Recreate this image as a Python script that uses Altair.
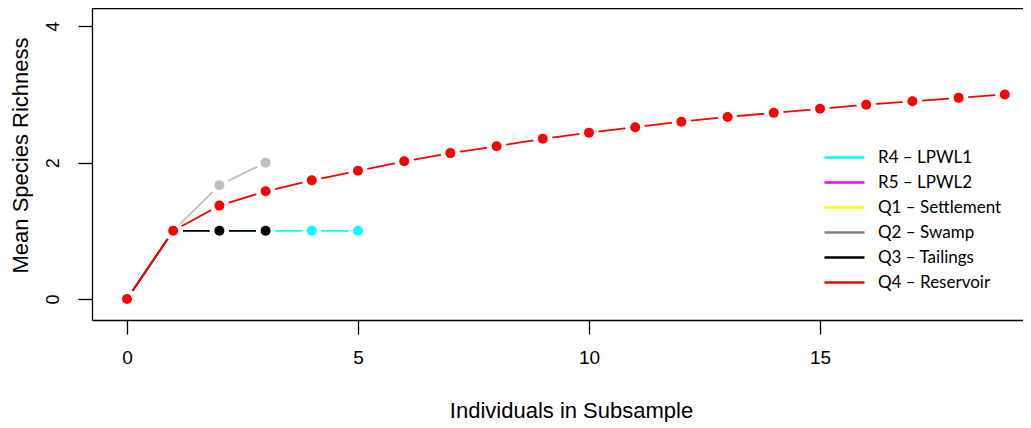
import altair as alt
import pandas as pd

# ---- data ----
names = ["R4 – LPWL1", "R5 – LPWL2", "Q1 – Settlement", "Q2 – Swamp", "Q3 – Tailings", "Q4 – Reservoir"]
line_colors = ["#00FFFF", "#FF00FF", "#FFFF00", "#BEBEBE", "#000000", "#FF0000"]
legend_colors = ["#00FFFF", "#FF00FF", "#FFFF00", "#808080", "#000000", "#FF0000"]

x_r4 = [0, 1, 2, 3, 4, 5]
y_r4 = [0, 1, 1, 1, 1, 1]
x_r5 = [0, 1]
y_r5 = [0, 1]
x_q1 = [0, 1, 2]
y_q1 = [0, 1, 1]
x_q2 = [0, 1, 2, 3]
y_q2 = [0, 1, 1.67, 2.0]
x_q3 = [0, 1, 2, 3]
y_q3 = [0, 1, 1, 1]
x_q4 = [0, 1, 2, 3, 4, 5, 6, 7, 8, 9, 10, 11, 12, 13, 14, 15, 16, 17, 18, 19]
y_q4 = [0, 1, 1.37, 1.58, 1.74, 1.88, 2.02, 2.14, 2.24, 2.35, 2.44, 2.52,
        2.60, 2.67, 2.73, 2.79, 2.85, 2.90, 2.95, 3.00]

x_ticks = [0, 5, 10, 15]
y_ticks = [0, 2, 4]

series_x = [x_r4, x_r5, x_q1, x_q2, x_q3, x_q4]
series_y = [y_r4, y_r5, y_q1, y_q2, y_q3, y_q4]

frames = []
for i, (n, xs_, ys_) in enumerate(zip(names, series_x, series_y)):
    frames.append(pd.DataFrame({"series": n, "x": xs_, "y": ys_, "k": i}))
df = pd.concat(frames, ignore_index=True)

xscale = alt.Scale(domain=[-0.7576, 19.394], nice=False, zero=False)
yscale = alt.Scale(domain=[-0.308, 4.268], nice=False, zero=False)

FONT = "Liberation Sans"

x_axis = alt.Axis(orient="bottom", values=x_ticks, grid=False, tickSize=14, tickWidth=1.3,
                  tickColor="black", domainColor="black", domainWidth=1.3,
                  labelFont=FONT, labelFontSize=19, labelColor="black", labelPadding=14,
                  labelFlush=False,
                  title="Individuals in Subsample", titleFont=FONT, titleFontSize=22,
                  titleFontWeight="normal", titleColor="black", titleX=479, titleY=97,
                  titleBaseline="alphabetic", titleAlign="center")
y_axis = alt.Axis(orient="left", values=y_ticks, grid=False, tickSize=14, tickWidth=1.3,
                  tickColor="black", domainColor="black", domainWidth=1.3,
                  labelFont=FONT, labelFontSize=18, labelColor="black", labelPadding=20,
                  labelAngle=270, labelAlign="center", labelBaseline="alphabetic",
                  labelFlush=False,
                  title="Mean Species Richness", titleFont=FONT, titleFontSize=22,
                  titleFontWeight="normal", titleColor="black", titleAngle=270,
                  titleX=-65, titleY=147, titleBaseline="alphabetic", titleAlign="center")
top_axis = alt.Axis(orient="top", grid=False, ticks=False, labels=False, domainColor="black",
                    domainWidth=1.3)

# legend-only layer (transparent lines) carrying the bottom/left axes
legend_layer = alt.Chart(df).mark_line(opacity=0).encode(
    x=alt.X("x:Q", scale=xscale, axis=x_axis),
    y=alt.Y("y:Q", scale=yscale, axis=y_axis),
    color=alt.Color("series:N",
                    scale=alt.Scale(domain=names, range=legend_colors),
                    sort=names,
                    legend=alt.Legend(orient="none", legendX=741, legendY=138, title=None,
                                      symbolType="M-2,0H2", symbolSize=400,
                                      symbolStrokeWidth=2.5, symbolOpacity=1,
                                      labelFont="Lato", labelFontSize=17, labelColor="black",
                                      labelOffset=22, rowPadding=5)),
    detail="series:N",
)

# frame layer: top border line of the box
frame_layer = alt.Chart(df).mark_point(opacity=0).encode(
    x=alt.X("x:Q", scale=xscale, axis=top_axis, title=None),
    y=alt.Y("y:Q", scale=yscale, axis=None),
)

layers = [legend_layer, frame_layer]
for i, n in enumerate(names):
    base = alt.Chart(df).transform_filter(alt.datum.k == i).encode(
        x=alt.X("x:Q", scale=xscale, axis=None),
        y=alt.Y("y:Q", scale=yscale, axis=None),
        order="x:Q",
    )
    layers.append(base.mark_line(color=line_colors[i], strokeWidth=1.8))
    layers.append(base.mark_circle(color="white", opacity=1, size=380))
    layers.append(base.mark_circle(color=line_colors[i], opacity=1, size=100))

chart = alt.layer(*layers).resolve_axis(x="independent", y="independent").properties(
    width=931, height=312,
    padding={"left": 84, "top": 0, "right": 0, "bottom": 102},
    autosize=alt.AutoSizeParams(type="none"),
    background="white",
).configure_view(strokeWidth=0)

chart.save("out.html", embed_options={"renderer": "svg", "actions": False})
